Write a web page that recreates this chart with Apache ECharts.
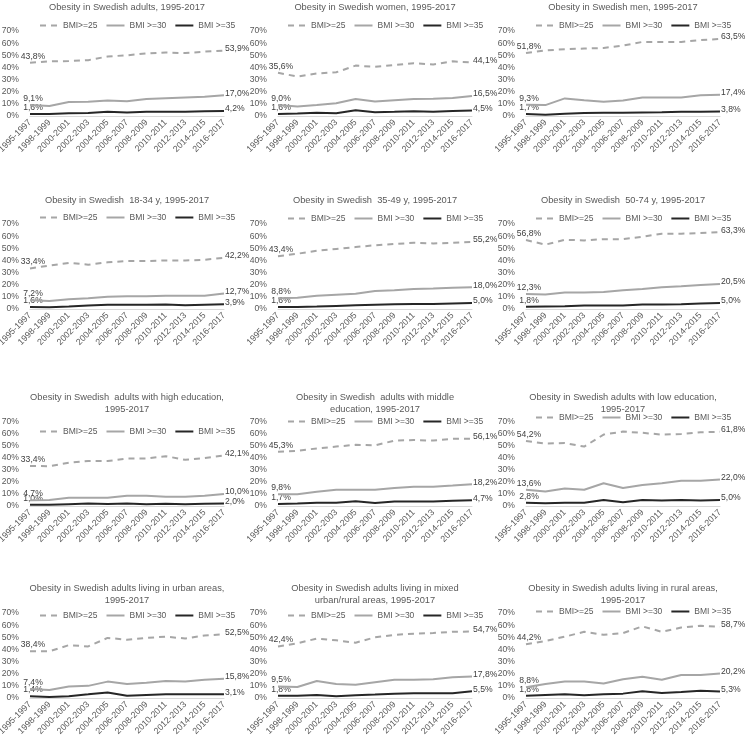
<!DOCTYPE html>
<html>
<head>
<meta charset="utf-8">
<script src="https://cdn.jsdelivr.net/npm/echarts@6/dist/echarts.min.js"></script>
<style>
  html, body { margin: 0; padding: 0; background: #fff; }
  #chart { width: 745px; height: 737px; }
</style>
</head>
<body>
<div id="chart"></div>
<script>
// periods on the x axis
const periods = ['1995-1997', '1998-1999', '2000-2001', '2002-2003', '2004-2005', '2006-2007',
    '2008-2009', '2010-2011', '2012-2013', '2014-2015', '2016-2017']
const seriesNames = ['BMI>=25', 'BMI >=30', 'BMI >=35']
const yTicks = [0, 10, 20, 30, 40, 50, 60, 70]

const titles = [
    'Obesity in Swedish adults, 1995-2017',
    'Obesity in Swedish women, 1995-2017',
    'Obesity in Swedish men, 1995-2017',
    'Obesity in Swedish  18-34 y, 1995-2017',
    'Obesity in Swedish  35-49 y, 1995-2017',
    'Obesity in Swedish  50-74 y, 1995-2017',
    'Obesity in Swedish  adults with high education,\n1995-2017',
    'Obesity in Swedish  adults with middle\neducation, 1995-2017',
    'Obesity in Swedish adults with low education,\n1995-2017',
    'Obesity in Swedish adults living in urban areas,\n1995-2017',
    'Obesity in Swedish adults living in mixed\nurban/rural areas, 1995-2017',
    'Obesity in Swedish adults living in rural areas,\n1995-2017'
]

// BMI>=25
const bmi25 = [
    [43.8, 45.0, 45.2, 46.0, 49.0, 50.0, 51.5, 52.3, 51.8, 53.0, 53.9],
    [35.6, 32.5, 35.0, 36.0, 41.5, 40.5, 42.0, 43.5, 42.5, 45.0, 44.1],
    [51.8, 54.0, 55.0, 55.5, 56.0, 58.0, 61.0, 61.0, 61.0, 62.5, 63.5],
    [33.4, 35.8, 38.0, 36.5, 38.5, 39.5, 39.5, 40.0, 40.0, 40.5, 42.2],
    [43.4, 45.5, 48.0, 49.5, 51.0, 52.5, 53.5, 54.5, 54.0, 54.5, 55.2],
    [56.8, 53.0, 57.0, 56.5, 57.5, 57.5, 59.5, 62.0, 62.0, 62.5, 63.3],
    [33.4, 33.2, 36.0, 37.5, 37.5, 39.5, 39.5, 41.5, 38.5, 40.0, 42.1],
    [45.3, 46.0, 48.0, 49.5, 51.0, 50.5, 54.5, 55.0, 54.5, 56.0, 56.1],
    [54.2, 52.0, 52.5, 49.5, 59.5, 62.0, 61.0, 59.5, 60.0, 61.5, 61.8],
    [38.4, 38.5, 43.5, 42.5, 49.5, 48.0, 49.5, 50.5, 49.0, 51.5, 52.5],
    [42.4, 45.0, 49.0, 47.5, 45.5, 50.0, 52.0, 53.0, 53.5, 54.5, 54.7],
    [44.2, 47.0, 50.5, 54.5, 52.0, 53.5, 59.0, 54.5, 58.0, 59.5, 58.7]
]
// BMI>=30
const bmi30 = [
    [9.1, 8.3, 11.5, 11.8, 12.8, 12.2, 14.0, 14.6, 15.2, 15.8, 17.0],
    [9.0, 7.8, 9.0, 10.5, 14.0, 12.0, 13.0, 14.0, 14.2, 14.8, 16.5],
    [9.3, 9.0, 14.5, 13.0, 11.8, 12.8, 15.2, 15.2, 15.3, 17.0, 17.4],
    [7.2, 6.5, 8.0, 8.8, 10.0, 10.5, 10.5, 11.0, 11.0, 11.0, 12.7],
    [8.8, 9.2, 11.0, 11.8, 12.5, 14.8, 15.5, 16.5, 16.8, 17.5, 18.0],
    [12.3, 12.0, 13.5, 13.5, 14.0, 15.5, 16.5, 18.0, 18.8, 19.8, 20.5],
    [4.7, 5.0, 6.8, 6.8, 6.8, 8.5, 8.5, 7.8, 7.8, 8.5, 10.0],
    [9.8, 9.8, 11.8, 13.5, 13.5, 13.5, 15.0, 16.0, 16.0, 17.0, 18.2],
    [13.6, 12.0, 14.5, 13.5, 19.0, 15.0, 17.5, 19.0, 21.0, 21.0, 22.0],
    [7.4, 6.5, 9.5, 10.0, 13.5, 11.5, 12.5, 14.0, 13.5, 15.0, 15.8],
    [9.5, 9.0, 14.0, 11.5, 11.0, 13.0, 15.0, 15.0, 15.5, 17.0, 17.8],
    [8.8, 11.5, 13.5, 13.5, 12.0, 15.5, 17.5, 15.0, 19.0, 19.0, 20.2]
]
// BMI>=35
const bmi35 = [
    [1.6, 1.6, 2.2, 2.4, 3.6, 2.9, 3.6, 3.6, 3.6, 4.0, 4.2],
    [1.6, 2.0, 2.6, 2.2, 4.8, 3.0, 3.4, 4.0, 3.4, 4.2, 4.5],
    [1.7, 1.0, 1.8, 2.4, 2.6, 2.6, 2.8, 3.0, 3.4, 3.6, 3.8],
    [1.6, 1.5, 2.0, 2.8, 3.4, 3.4, 3.4, 3.8, 3.0, 3.6, 3.9],
    [1.6, 1.6, 2.0, 2.5, 3.0, 3.5, 4.0, 4.2, 4.2, 4.6, 5.0],
    [1.8, 2.0, 2.2, 2.8, 2.8, 2.8, 3.8, 3.8, 4.0, 4.5, 5.0],
    [1.0, 1.0, 1.5, 2.0, 1.6, 2.0, 1.4, 1.8, 1.4, 1.8, 2.0],
    [1.7, 2.0, 2.8, 2.8, 4.0, 2.5, 3.8, 3.8, 3.8, 4.4, 4.7],
    [2.8, 2.2, 2.8, 2.8, 5.0, 3.2, 5.0, 4.5, 5.0, 4.5, 5.0],
    [1.4, 0.8, 1.5, 3.0, 4.6, 1.8, 2.5, 3.0, 3.0, 3.0, 3.1],
    [1.8, 1.8, 2.4, 1.5, 2.2, 2.8, 3.6, 4.0, 4.0, 4.0, 5.5],
    [1.8, 2.5, 3.0, 2.2, 3.0, 3.6, 5.5, 4.2, 5.0, 6.0, 5.3]
]

// panel layout (pixels)
const colX = [0, 248, 496]
const rowTop = [31, 224, 422, 613]
const rowBottom = [116, 309, 506, 698]
const titleTop = [1, 194, 391, 582]
const legendMid = [26, 26, 26, 218, 219, 219, 432, 422, 418, 616, 616, 612]

const FONT = '"Liberation Sans", Arial, sans-serif'
const TXT = '#595959'
const lineColors = ['#a6a6a6', '#a6a6a6', '#262626']
const allData = [bmi25, bmi30, bmi35]

function fmt(v) {
    return v.toFixed(1).replace('.', ',') + '%'
}

// only first and last point get a value label
function labelled(vals) {
    const last = vals.length - 1
    return vals.map((v, i) => {
        if (i === 0) return { value: v, label: { show: true, position: 'top', distance: 2, offset: [3, 0] } }
        if (i === last) return { value: v, label: { show: true, position: 'right', distance: 1, offset: [0, -2] } }
        return v
    })
}

const option = {
    animation: false,
    backgroundColor: '#fff',
    title: [], legend: [], grid: [], xAxis: [], yAxis: [], series: []
}

titles.forEach((t, p) => {
    const r = Math.floor(p / 3)
    const c = p % 3
    const x0 = colX[c]
    option.title.push({
        text: t,
        left: x0 + 127,
        top: titleTop[r],
        textAlign: 'center',
        padding: 0,
        textStyle: { fontFamily: FONT, fontSize: 9.3, fontWeight: 'normal', color: TXT, lineHeight: 12 }
    })
    option.legend.push({
        data: seriesNames,
        left: x0 + 39,
        top: legendMid[p] - 5,
        width: 215,
        itemWidth: 18,
        itemHeight: 10,
        itemGap: 8,
        padding: 0,
        selectedMode: false,
        itemStyle: { opacity: 0 },
        textStyle: { fontFamily: FONT, fontSize: 8.5, color: TXT }
    })
    option.grid.push({
        left: x0 + 30,
        width: 194,
        top: rowTop[r],
        height: rowBottom[r] - rowTop[r],
        outerBoundsMode: 'none'
    })
    option.xAxis.push({
        type: 'category',
        gridIndex: p,
        data: periods,
        boundaryGap: false,
        axisLine: { lineStyle: { color: '#d9d9d9' } },
        axisTick: { show: false },
        axisLabel: { interval: 0, rotate: 45, fontFamily: FONT, fontSize: 8.8, color: TXT, margin: 5 }
    })
    option.yAxis.push({
        type: 'value',
        gridIndex: p,
        min: yTicks[0],
        max: yTicks[yTicks.length - 1],
        interval: 10,
        splitLine: { show: false },
        axisLine: { show: false },
        axisTick: { show: false },
        axisLabel: { formatter: '{value}%', fontFamily: FONT, fontSize: 8.6, color: TXT, margin: 11 }
    })
    seriesNames.forEach((name, s) => {
        option.series.push({
            name: name,
            type: 'line',
            xAxisIndex: p,
            yAxisIndex: p,
            data: labelled(allData[s][p]),
            symbol: 'circle',
            symbolSize: 0,
            showAllSymbol: true,
            z: 3 - s,
            itemStyle: { color: lineColors[s] },
            lineStyle: { color: lineColors[s], width: 2, type: s === 0 ? [6, 5] : 'solid' },
            label: {
                show: false,
                formatter: (d) => fmt(d.value),
                fontFamily: FONT,
                fontSize: 8.6,
                color: '#404040'
            }
        })
    })
})

const chart = echarts.init(document.getElementById('chart'))
chart.setOption(option)
window.addEventListener('resize', () => chart.resize())
</script>
</body>
</html>
